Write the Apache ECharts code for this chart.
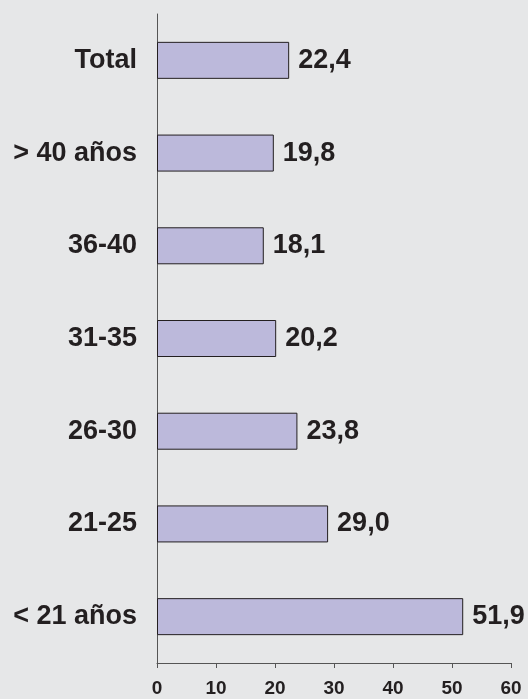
<!DOCTYPE html>
<html>
<head>
<meta charset="utf-8">
<script src="https://cdn.jsdelivr.net/npm/echarts@6/dist/echarts.min.js"></script>
<style>
  html, body { margin: 0; padding: 0; background: #e6e7e8; }
  #chart { width: 528px; height: 699px; }
</style>
</head>
<body>
<div id="chart"></div>
<script>
// grupos de edad, de arriba abajo
const categories = ['Total', '> 40 años', '36-40', '31-35', '26-30', '21-25', '< 21 años']
const values = [22.4, 19.8, 18.1, 20.2, 23.8, 29.0, 51.9]
const xTicks = [0, 10, 20, 30, 40, 50, 60]

const font = '"Liberation Sans", Arial, sans-serif'

const myChart = echarts.init(document.getElementById('chart'))
myChart.setOption({
  backgroundColor: '#e6e7e8',
  animation: false,
  grid: {
    left: 157,
    right: 17,
    top: 14,
    bottom: 36,
    containLabel: false
  },
  xAxis: {
    type: 'value',
    min: xTicks[0],
    max: xTicks[xTicks.length - 1],
    interval: 10,
    splitLine: { show: false },
    axisLine: { show: true, lineStyle: { color: '#555555', width: 1 } },
    axisTick: { show: true, length: 5, lineStyle: { color: '#555555' } },
    axisLabel: {
      margin: 16,
      color: '#231f20',
      fontFamily: font,
      fontWeight: 'bold',
      fontSize: 19
    }
  },
  yAxis: {
    type: 'category',
    inverse: true,
    data: categories,
    axisLine: { show: true, lineStyle: { color: '#555555', width: 1 } },
    axisTick: { show: false },
    axisLabel: {
      margin: 20,
      color: '#231f20',
      fontFamily: font,
      fontWeight: 'bold',
      fontSize: 27
    }
  },
  series: [
    {
      type: 'bar',
      data: values,
      barWidth: 37,
      itemStyle: {
        color: '#bcb9db',
        borderColor: '#231f20',
        borderWidth: 1
      },
      label: {
        show: true,
        position: 'right',
        distance: 9,
        color: '#231f20',
        fontFamily: font,
        fontWeight: 'bold',
        fontSize: 27,
        formatter: p => p.value.toFixed(1).replace('.', ',')
      }
    }
  ]
})
window.onresize = function() {
  myChart.resize()
}
</script>
</body>
</html>
